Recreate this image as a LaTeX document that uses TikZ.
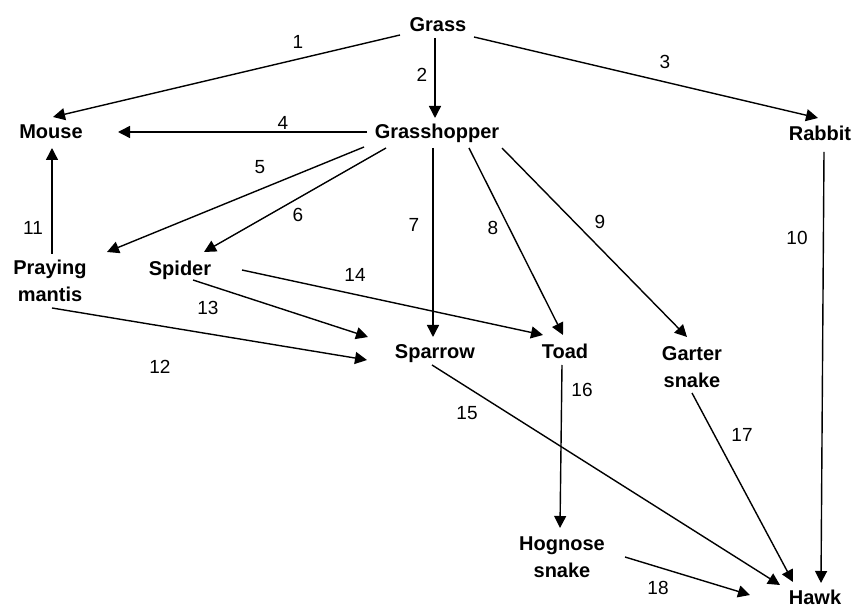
\documentclass[tikz,border=0pt]{standalone}
\usepackage{fontspec}
\setmainfont{Liberation Sans}
\usetikzlibrary{arrows.meta}
\begin{document}
\begin{tikzpicture}[x=1pt,y=-1pt,
  animal/.style={font=\bfseries\fontsize{20}{26.5}\selectfont, inner sep=0pt, text height=14pt, text depth=0pt},
  animaltwo/.style={font=\bfseries\fontsize{20}{26.5}\selectfont, inner sep=0pt, align=center},
  num/.style={font=\fontsize{19}{21}\selectfont, inner sep=0pt, text height=13.5pt, text depth=0pt},
  eats/.style={line width=1.4pt, -{Triangle[length=12pt,width=12pt]}}]
\useasboundingbox (0,0) rectangle (855,609);

% organisms
\node[animal] (grass)   at (438,25)  {Grass};
\node[animal] (hopper)  at (437,132) {Grasshopper};
\node[animal] (mouse)   at (51,132)  {Mouse};
\node[animal] (rabbit)  at (820,134) {Rabbit};
\node[animaltwo] (mantis) at (50,281) {Praying\\mantis};
\node[animal] (spider)  at (180,269) {Spider};
\node[animal] (sparrow) at (435,352) {Sparrow};
\node[animal] (toad)    at (565,352) {Toad};
\node[animaltwo] (garter) at (692,367) {Garter\\snake};
\node[animaltwo] (hognose) at (562,557) {Hognose\\snake};
\node[animal] (hawk)    at (815,598) {Hawk};

% feeding links
\draw[eats] ([shift={(-38,10)}]grass.center) -- ([shift={(2,-15)}]mouse.center);
\draw[eats] ([shift={(-3,13)}]grass.center) -- ([shift={(-2,-14)}]hopper.center);
\draw[eats] ([shift={(36,12)}]grass.center) -- ([shift={(-2,-16)}]rabbit.center);
\draw[eats] ([shift={(-70,0)}]hopper.center) -- ([shift={(67,0)}]mouse.center);
\draw[eats] ([shift={(-73,15)}]hopper.center) -- ([shift={(57,-29)}]mantis.center);
\draw[eats] ([shift={(-51,16)}]hopper.center) -- ([shift={(24,-17)}]spider.center);
\draw[eats] ([shift={(-4,16)}]hopper.center) -- ([shift={(-2,-15)}]sparrow.center);
\draw[eats] ([shift={(32,16)}]hopper.center) -- ([shift={(-2,-17)}]toad.center);
\draw[eats] ([shift={(65,16)}]hopper.center) -- ([shift={(-5,-30)}]garter.center);
\draw[eats] ([shift={(4,18)}]rabbit.center) -- ([shift={(6,-15)}]hawk.center);
\draw[eats] ([shift={(2,-27)}]mantis.center) -- ([shift={(1,16)}]mouse.center);
\draw[eats] ([shift={(2,27)}]mantis.center) -- ([shift={(-68,8)}]sparrow.center);
\draw[eats] ([shift={(13,11)}]spider.center) -- ([shift={(-67,-15)}]sparrow.center);
\draw[eats] ([shift={(62,1)}]spider.center) -- ([shift={(-22,-17)}]toad.center);
\draw[eats] ([shift={(-3,13)}]sparrow.center) -- ([shift={(-35,-13)}]hawk.center);
\draw[eats] ([shift={(-3,13)}]toad.center) -- ([shift={(-2,-29)}]hognose.center);
\draw[eats] ([shift={(0,26)}]garter.center) -- ([shift={(-22,-16)}]hawk.center);
\draw[eats] ([shift={(63,0)}]hognose.center) -- ([shift={(-65,-3)}]hawk.center);

% link numbers
\node[num] (n1)  at (298,42)  {1};
\node[num] (n2)  at (422,75)  {2};
\node[num] (n3)  at (665,62)  {3};
\node[num] (n4)  at (283,123) {4};
\node[num] (n5)  at (260,167) {5};
\node[num] (n6)  at (298,215) {6};
\node[num] (n7)  at (414,225) {7};
\node[num] (n8)  at (493,228) {8};
\node[num] (n9)  at (600,222) {9};
\node[num] (n10) at (797,238) {10};
\node[num] (n11) at (33,228)  {11};
\node[num] (n12) at (160,367) {12};
\node[num] (n13) at (208,308) {13};
\node[num] (n14) at (355,275) {14};
\node[num] (n15) at (467,413) {15};
\node[num] (n16) at (582,390) {16};
\node[num] (n17) at (742,435) {17};
\node[num] (n18) at (658,588) {18};
\end{tikzpicture}
\end{document}
